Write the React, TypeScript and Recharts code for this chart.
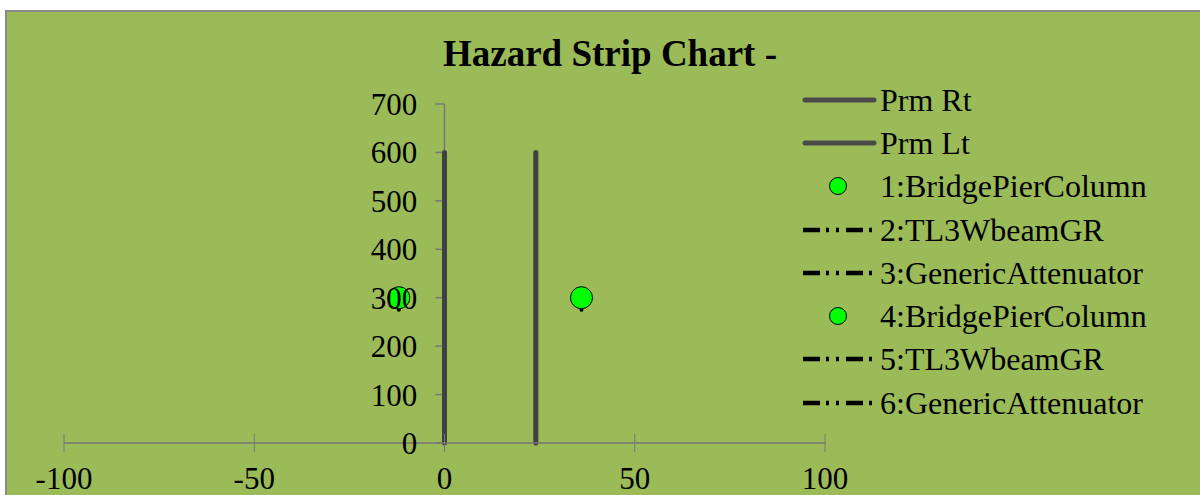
import React from 'react'
import { ComposedChart, Line, Scatter, XAxis, YAxis, ReferenceLine } from 'recharts'

const xTicks = [-100, -50, 0, 50, 100]
const yTicks = [0, 100, 200, 300, 400, 500, 600, 700]

const prmRt = [{ x: 0, y: 0 }, { x: 0, y: 600 }]
const prmLt = [{ x: 24, y: 0 }, { x: 24, y: 600 }]
const bridgePier1 = [{ x: -12, y: 300 }]
const wbeam2 = [{ x: -12, y: 275 }, { x: -12, y: 300 }]
const attenuator3: { x: number; y: number }[] = []
const bridgePier4 = [{ x: 36, y: 300 }]
const wbeam5 = [{ x: 36, y: 275 }, { x: 36, y: 300 }]
const attenuator6: { x: number; y: number }[] = []

const legendNames = [
  'Prm Rt',
  'Prm Lt',
  '1:BridgePierColumn',
  '2:TL3WbeamGR',
  '3:GenericAttenuator',
  '4:BridgePierColumn',
  '5:TL3WbeamGR',
  '6:GenericAttenuator',
]
const legendKinds = ['solid', 'solid', 'dot', 'dash', 'dash', 'dot', 'dash', 'dash']

const FONT = '"Liberation Serif", "Times New Roman", serif'
const BG = '#9bbb59'
const AXIS = '#767676'
const PRM = '#404040'
const GREEN = '#00ff00'
const DASH = '17 6 3 7 3 7'

const XTick = (props: any) => {
  const { x, y, payload } = props
  return (
    <g>
      <line x1={x} x2={x} y1={y - 9} y2={y + 9} stroke={AXIS} strokeWidth={1} />
      <text x={x} y={y + 46} textAnchor="middle" fontSize={31} fontFamily={FONT} fill="#000">
        {payload.value}
      </text>
    </g>
  )
}

const GreenDot = (props: any) => (
  <circle cx={props.cx} cy={props.cy} r={11} fill={GREEN} stroke="#000" strokeWidth={1} />
)

function LegendIcon({ kind }: { kind: string }) {
  return (
    <svg width={79} height={20} style={{ display: 'block' }}>
      {kind === 'solid' && <line x1={4} x2={73} y1={10} y2={10} stroke="#4a4a4a" strokeWidth={5} strokeLinecap="round" />}
      {kind === 'dot' && <circle cx={37} cy={10} r={8.5} fill={GREEN} stroke="#000" strokeWidth={1} />}
      {kind === 'dash' && <line x1={2} x2={72} y1={10} y2={10} stroke="#000" strokeWidth={4.5} strokeDasharray={DASH} />}
    </svg>
  )
}

export default function App() {
  return (
    <div style={{ position: 'fixed', left: 0, top: 0, width: 1200, height: 495, overflow: 'hidden', background: '#fff' }}>
      <div
        style={{
          position: 'absolute',
          left: 5,
          top: 10,
          width: 1210,
          height: 500,
          background: BG,
          borderLeft: '2px solid #8a8a8a',
          borderTop: '2px solid #8a8a8a',
        }}
      />
      <div
        style={{
          position: 'absolute',
          left: 410,
          top: 36,
          width: 400,
          textAlign: 'center',
          fontFamily: FONT,
          fontWeight: 'bold',
          fontSize: 37,
          lineHeight: '36px',
          color: '#000',
        }}
      >
        Hazard Strip Chart -
      </div>
      <div style={{ position: 'absolute', left: 0, top: 0 }}>
        <ComposedChart width={1200} height={495} margin={{ top: 104, right: 375, bottom: 0, left: 64 }}>
          <XAxis
            type="number"
            dataKey="x"
            domain={[-100, 100]}
            ticks={xTicks}
            height={52}
            axisLine={{ stroke: AXIS, strokeWidth: 1.5 }}
            tickLine={false}
            tickSize={0}
            tickMargin={0}
            tick={<XTick />}
            allowDataOverflow
          />
          <YAxis type="number" dataKey="y" domain={[0, 700]} ticks={yTicks} hide />
          <ReferenceLine segment={[{ x: 0, y: 0 }, { x: 0, y: 700 }]} stroke={AXIS} strokeWidth={1.5} />
          {yTicks.map((t) => (
            <ReferenceLine
              key={t}
              segment={[{ x: -2.4, y: t }, { x: 0, y: t }]}
              stroke={AXIS}
              strokeWidth={1.5}
              label={{ value: t, position: 'left', offset: 18, fontSize: 31, fontFamily: FONT, fill: '#000' }}
            />
          ))}
          <Line data={prmRt} dataKey="y" stroke={PRM} strokeWidth={5} strokeLinecap="round" dot={false} isAnimationActive={false} />
          <Line data={prmLt} dataKey="y" stroke={PRM} strokeWidth={5} strokeLinecap="round" dot={false} isAnimationActive={false} />
          <Line data={wbeam2} dataKey="y" stroke="#000" strokeWidth={4} strokeLinecap="round" dot={false} isAnimationActive={false} />
          <Line data={attenuator3} dataKey="y" stroke="#000" strokeWidth={4} strokeDasharray={DASH} dot={false} isAnimationActive={false} />
          <Line data={wbeam5} dataKey="y" stroke="#000" strokeWidth={4} strokeLinecap="round" dot={false} isAnimationActive={false} />
          <Line data={attenuator6} dataKey="y" stroke="#000" strokeWidth={4} strokeDasharray={DASH} dot={false} isAnimationActive={false} />
          <Scatter data={bridgePier1} dataKey="y" shape={GreenDot} isAnimationActive={false} />
          <Scatter data={bridgePier4} dataKey="y" shape={GreenDot} isAnimationActive={false} />
        </ComposedChart>
      </div>
      <div style={{ position: 'absolute', left: 801, top: 78 }}>
        {legendNames.map((name, i) => (
          <div key={name + i} style={{ display: 'flex', alignItems: 'center', height: 43.3 }}>
            <LegendIcon kind={legendKinds[i]} />
            <span style={{ fontFamily: FONT, fontSize: 32, lineHeight: '32px', color: '#000', whiteSpace: 'nowrap' }}>{name}</span>
          </div>
        ))}
      </div>
    </div>
  )
}
